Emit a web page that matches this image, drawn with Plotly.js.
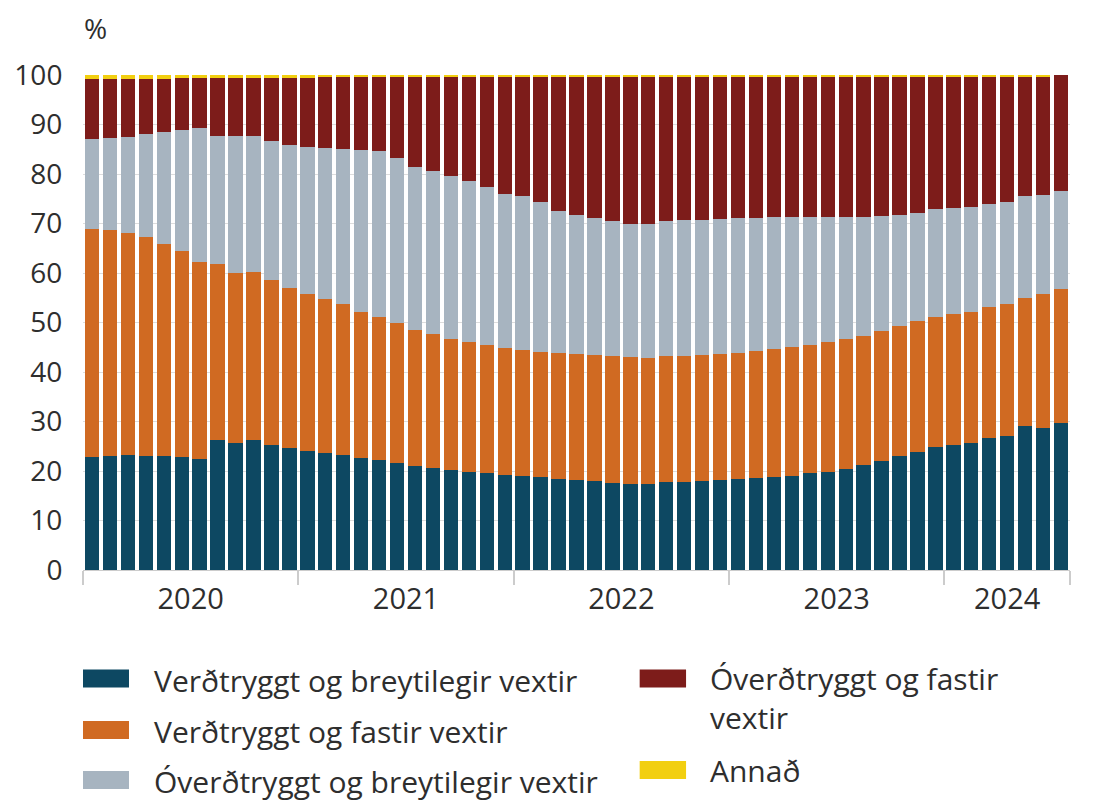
<!DOCTYPE html>
<html>
<head>
<meta charset="utf-8">
<script src="https://cdn.plot.ly/plotly-3.0.1.min.js"></script>
<style>html,body{margin:0;padding:0;background:#fff;}#chart{width:1112px;height:803px;}</style>
</head>
<body>
<div id="chart"></div>
<script>
// Monthly observations, Jan 2020 – Jul 2024 (55 months)
const years = ["2020", "2021", "2022", "2023", "2024"];
const monthsPerYear = [12, 12, 12, 12, 7];

const seriesNames = [
  "Verðtryggt og breytilegir vextir",
  "Verðtryggt og fastir vextir",
  "Óverðtryggt og breytilegir vextir",
  "Óverðtryggt og fastir vextir",
  "Annað"
];
const legendLabels = [
  "Verðtryggt og breytilegir vextir",
  "Verðtryggt og fastir vextir",
  "Óverðtryggt og breytilegir vextir",
  "Óverðtryggt og fastir<br>vextir",
  "Annað"
];
const colors = ["#0d4862", "#d06a22", "#a7b4c0", "#7d1c1a", "#f2cf10"];

const verdtrBreyt = [22.9,23.0,23.3,23.1,23.0,22.8,22.4,26.3,25.7,26.2,25.2,24.7,
  24.1,23.7,23.3,22.7,22.2,21.6,21.0,20.6,20.2,19.8,19.5,19.1,
  19.0,18.7,18.3,18.1,17.9,17.6,17.4,17.3,17.7,17.7,17.9,18.2,
  18.3,18.5,18.8,19.0,19.5,19.8,20.5,21.2,22.1,23.1,23.9,24.8,
  25.3,25.7,26.6,27.1,29.1,28.7,29.7];
const verdtrFast = [45.9,45.6,44.7,44.1,42.9,41.7,39.8,35.5,34.3,34.1,33.3,32.2,
  31.6,31.0,30.4,29.5,28.9,28.2,27.5,27.1,26.5,26.2,26.0,25.8,
  25.5,25.3,25.5,25.5,25.5,25.6,25.6,25.6,25.6,25.6,25.6,25.4,
  25.5,25.7,25.9,26.0,26.0,26.2,26.1,26.1,26.1,26.2,26.5,26.4,
  26.5,26.5,26.5,26.7,25.8,27.0,27.1];
const overdtrBreyt = [18.2,18.6,19.5,20.8,22.6,24.4,27.1,25.9,27.6,27.3,28.2,29.0,
  29.7,30.5,31.3,32.7,33.5,33.5,33.0,33.0,32.8,32.5,31.9,31.1,
  31.0,30.3,28.7,28.1,27.8,27.4,27.0,27.1,27.2,27.4,27.3,27.4,
  27.3,27.0,26.7,26.4,25.9,25.3,24.8,24.1,23.4,22.5,21.7,21.7,
  21.3,21.2,20.8,20.5,20.7,20.1,19.7];
const overdtrFast = [12.2,12.0,11.7,11.2,10.7,10.4,10.0,11.6,11.7,11.7,12.7,13.5,
  14.0,14.3,14.5,14.6,14.9,16.2,18.1,18.9,20.1,21.1,22.2,23.7,
  24.2,25.4,27.2,28.0,28.5,29.1,29.7,29.7,29.2,29.0,28.9,28.7,
  28.6,28.5,28.3,28.3,28.3,28.4,28.3,28.3,28.1,27.9,27.6,26.8,
  26.6,26.3,25.8,25.4,24.1,23.9,23.7];
const annad = [0.8,0.8,0.8,0.8,0.8,0.7,0.7,0.7,0.7,0.7,0.6,0.6,
  0.6,0.5,0.5,0.5,0.5,0.5,0.4,0.4,0.4,0.4,0.4,0.3,
  0.3,0.3,0.3,0.3,0.3,0.3,0.3,0.3,0.3,0.3,0.3,0.3,
  0.3,0.3,0.3,0.3,0.3,0.3,0.3,0.3,0.3,0.3,0.3,0.3,
  0.3,0.3,0.3,0.3,0.3,0.3,0.3];

const seriesValues = [verdtrBreyt, verdtrFast, overdtrBreyt, overdtrFast, annad];

// x positions: month index
const xIdx = verdtrBreyt.map((_, i) => i);

// year label centres and boundaries from month counts
const yearCenters = [], boundaries = [-0.5];
let start = 0;
monthsPerYear.forEach(n => {
  yearCenters.push(start + (n - 1) / 2);
  start += n;
  boundaries.push(start - 0.5);
});

const traces = seriesValues.map((vals, k) => ({
  type: "bar",
  x: xIdx,
  y: vals,
  name: seriesNames[k],
  marker: { color: colors[k], line: { width: 0 } },
  cliponaxis: false,
  showlegend: false,
  hoverinfo: "y+name"
}));

const FONT = "Open Sans, Noto Sans, sans-serif";
const TXT = "#2e2e2e";

// manual legend (two columns)
const legendPos = [
  { col: 0, yc: -0.224, ys: [-0.201, -0.2374] },
  { col: 0, yc: -0.327, ys: [-0.305, -0.3414] },
  { col: 0, yc: -0.428, ys: [-0.406, -0.4424] },
  { col: 1, yc: -0.258, ys: [-0.201, -0.2374] },
  { col: 1, yc: -0.405, ys: [-0.386, -0.4224] }
];
const colX = [{ s0: 0.0, s1: 0.0466, t: 0.0699 }, { s0: 0.564, s1: 0.611, t: 0.633 }];

const shapes = [], annotations = [];
legendPos.forEach((p, k) => {
  const c = colX[p.col];
  shapes.push({ type: "rect", xref: "paper", yref: "paper",
    x0: c.s0, x1: c.s1, y0: p.ys[1], y1: p.ys[0],
    fillcolor: colors[k], line: { width: 0 } });
  annotations.push({ xref: "paper", yref: "paper", x: c.t, y: p.yc,
    xanchor: "left", yanchor: "middle", align: "left", showarrow: false,
    text: legendLabels[k], font: { family: FONT, size: 30, color: TXT } });
});
annotations.push({ xref: "paper", yref: "paper", x: 0.013, y: 1.095,
  xanchor: "center", yanchor: "middle", showarrow: false, text: "%",
  font: { family: FONT, size: 28, color: TXT } });

const layout = {
  width: 1112, height: 803,
  margin: { l: 83, r: 42, t: 75, b: 233 },
  paper_bgcolor: "#ffffff", plot_bgcolor: "#ffffff",
  barmode: "stack",
  bargap: 0.2,
  font: { family: FONT, color: TXT },
  xaxis: {
    range: [-0.5, xIdx.length - 0.5],
    tickmode: "array", tickvals: yearCenters, ticktext: years,
    ticks: "outside", ticklen: 3, tickcolor: "rgba(0,0,0,0)",
    tickfont: { family: FONT, size: 29, color: TXT },
    showgrid: false, zeroline: false,
    showline: true, linecolor: "#cccccc", linewidth: 1,
    minor: { tickmode: "array", tickvals: boundaries, ticks: "outside",
      ticklen: 14, tickwidth: 2, tickcolor: "#cccccc", showgrid: false },
    fixedrange: true
  },
  yaxis: {
    range: [0, 100],
    tickmode: "array", tickvals: [0,10,20,30,40,50,60,70,80,90,100],
    ticks: "outside", ticklen: 14, tickcolor: "rgba(0,0,0,0)",
    tickfont: { family: FONT, size: 28, color: TXT },
    showgrid: true, gridcolor: "#dddddd", gridwidth: 1,
    zeroline: false, showline: false,
    fixedrange: true
  },
  shapes: shapes,
  annotations: annotations
};

Plotly.newPlot("chart", traces, layout, { displayModeBar: false });
</script>
</body>
</html>
